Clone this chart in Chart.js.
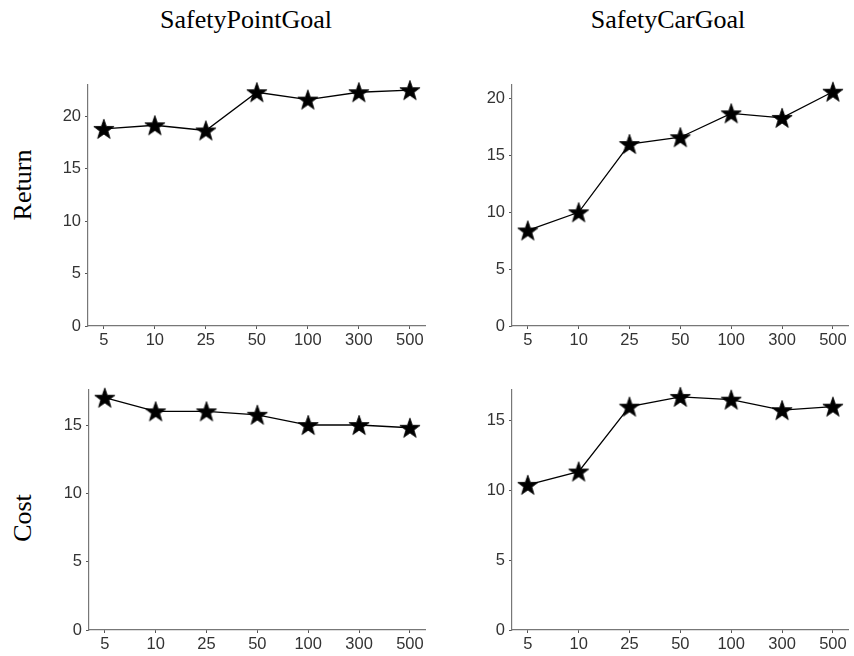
<!DOCTYPE html>
<html>
<head>
<meta charset="utf-8">
<script src="https://cdn.jsdelivr.net/npm/chart.js@4"></script>
<style>
  body { margin: 0; width: 854px; height: 656px; overflow: hidden; background: #fff; position: relative;
         font-family: "Liberation Serif", "Times New Roman", serif; }
  .panel { position: absolute; }
  .title { position: absolute; font-size: 26px; line-height: 1; color: #000; white-space: nowrap; transform: translateX(-50%); }
  .rowlab { position: absolute; font-size: 26px; line-height: 1; color: #000; white-space: nowrap;
            transform: translate(-50%, -50%) rotate(-90deg); }
</style>
</head>
<body>
<div class="title" style="left:246px; top:7px">SafetyPointGoal</div>
<div class="title" style="left:668px; top:7px">SafetyCarGoal</div>
<div class="rowlab" style="left:23px; top:185px">Return</div>
<div class="rowlab" style="left:23px; top:518px">Cost</div>

<canvas id="tl" class="panel"></canvas>
<canvas id="tr" class="panel"></canvas>
<canvas id="bl" class="panel"></canvas>
<canvas id="br" class="panel"></canvas>

<script>
// x categories (buffer size) and values
const categories = ["5", "10", "25", "50", "100", "300", "500"];
const pointReturn = [18.8, 19.15, 18.65, 22.3, 21.6, 22.3, 22.5];
const carReturn = [8.4, 10.0, 16.0, 16.6, 18.7, 18.3, 20.6];
const pointCost = [17.0, 16.0, 16.0, 15.75, 15.0, 15.0, 14.8];
const carCost = [10.4, 11.35, 16.0, 16.7, 16.5, 15.75, 16.0];
const yTicks = [0, 5, 10, 15, 20];

const Y_W = 60, X_H = 30, PAD_T = 12, PAD_R = 3;

// filled five point star marker (Chart.js "star" is an asterisk)
function makeStar() {
  const c = document.createElement("canvas");
  c.width = 24; c.height = 24;
  const g = c.getContext("2d");
  const R = 10.6, r = R * 0.4;
  g.beginPath();
  for (let k = 0; k < 10; k++) {
    const rad = k % 2 ? r : R;
    const a = -Math.PI / 2 + k * Math.PI / 5;
    const px = 12 + rad * Math.cos(a), py = 12.9 + rad * Math.sin(a);
    k ? g.lineTo(px, py) : g.moveTo(px, py);
  }
  g.closePath();
  g.fillStyle = "#000";
  g.fill();
  g.lineWidth = 0.8;
  g.strokeStyle = "#000";
  g.stroke();
  return c;
}
const star = makeStar();

const tickFont = { family: "'Liberation Sans', Arial, sans-serif", size: 16.5 };

function panel(id, values, ymax, box) {
  const cv = document.getElementById(id);
  const w = box.R - box.L + Y_W + PAD_R;
  const h = box.B - box.T + PAD_T + X_H;
  cv.width = w; cv.height = h;
  cv.style.left = (box.L - Y_W) + "px";
  cv.style.top = (box.T - PAD_T) + "px";

  new Chart(cv, {
    type: "line",
    data: {
      datasets: [{
        data: categories.map((c, i) => ({ x: i, y: values[i] })),
        borderColor: "#000",
        borderWidth: 1.3,
        pointStyle: star,
        pointBackgroundColor: "#000",
        tension: 0,
        clip: false,
      }],
    },
    options: {
      responsive: false,
      animation: false,
      layout: { padding: { top: PAD_T, right: PAD_R, left: 0, bottom: 0 } },
      plugins: { legend: { display: false }, tooltip: { enabled: false } },
      scales: {
        x: {
          type: "linear",
          min: -0.31, max: 6.31,
          afterBuildTicks: (s) => { s.ticks = categories.map((_, i) => ({ value: i })); },
          afterFit: (s) => { s.height = X_H; },
          ticks: { callback: (v) => categories[v], font: tickFont, color: "#333", padding: 2, maxRotation: 0, autoSkip: false },
          grid: { drawOnChartArea: false, drawTicks: true, tickLength: 3, color: "#555" },
          border: { display: true, color: "#777", width: 1.2 },
        },
        y: {
          min: 0, max: ymax,
          afterBuildTicks: (s) => { s.ticks = yTicks.filter((t) => t <= ymax).map((t) => ({ value: t })); },
          afterFit: (s) => { s.width = Y_W; },
          ticks: { font: tickFont, color: "#333", padding: 4 },
          grid: { drawOnChartArea: false, drawTicks: true, tickLength: 3, color: "#555" },
          border: { display: true, color: "#777", width: 1.2 },
        },
      },
    },
  });
}

panel("tl", pointReturn, 23.0, { L: 88, R: 428, T: 83, B: 326 });
panel("tr", carReturn, 21.2, { L: 512, R: 851, T: 83, B: 326 });
panel("bl", pointCost, 17.57, { L: 89, R: 428, T: 388, B: 630 });
panel("br", carCost, 17.2, { L: 512, R: 851, T: 388, B: 630 });
</script>
</body>
</html>
